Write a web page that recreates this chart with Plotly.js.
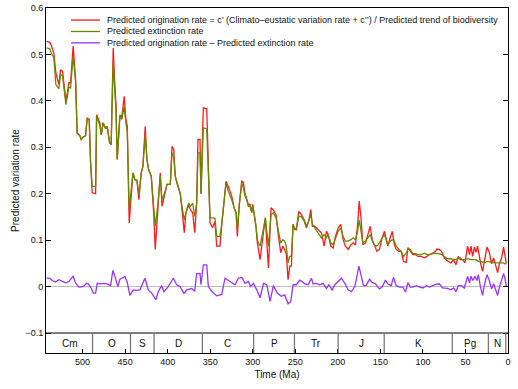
<!DOCTYPE html>
<html>
<head>
<meta charset="utf-8">
<script src="https://cdn.plot.ly/plotly-3.0.1.min.js"></script>
<style>
  html, body { margin: 0; padding: 0; background: #fff; }
  #plot { width: 518px; height: 389px; }
</style>
</head>
<body>
<div id="plot"></div>
<script>
// Time (Ma) for the origination / extinction curves
let rateTime = [542.4, 538.5, 536.9, 533.8, 531.4, 527.9, 525.9, 523.5, 519.6, 516.1,
  514.1, 511.1, 508.2, 506.4, 503.2, 501.6, 499.3, 496.5, 494.6, 492.2,
  490.6, 488.7, 484.7, 483.5, 479.6, 478.1, 475.8, 472.9, 471.1, 468.2,
  466.4, 464.0, 462.0, 460.8, 459.3, 456.1, 453.8, 451.1, 449.1, 447.5,
  445.2, 440.8, 438.5, 436.1, 433.8, 431.1, 429.1, 427.3, 426.4, 424.4,
  422.4, 419.3, 416.5, 414.6, 411.4, 408.7, 406.7, 403.5, 400.8, 396.9,
  394.9, 392.9, 391.1, 389.1, 385.2, 383.2, 380.5, 378.5, 375.3, 373.4,
  370.6, 368.2, 365.9, 364.4, 362.0, 360.8, 358.1, 354.1, 350.2, 347.1,
  344.4, 342.4, 338.5, 336.5, 333.8, 331.4, 328.7, 324.7, 322.0, 319.6,
  318.1, 315.8, 312.9, 311.1, 309.1, 307.1, 305.2, 303.2, 301.2, 300.0,
  298.5, 296.1, 294.6, 291.4, 287.9, 285.2, 281.6, 278.5, 275.8, 272.6,
  269.9, 267.1, 264.7, 262.4, 260.5, 258.5, 256.5, 254.6, 252.6, 250.6,
  248.7, 245.9, 242.8, 239.6, 236.9, 234.1, 231.8, 229.9, 227.1, 224.0,
  221.2, 219.3, 216.1, 213.4, 211.4, 208.2, 205.5, 202.8, 199.6, 196.5,
  193.8, 191.1, 187.9, 184.7, 182.0, 179.3, 176.9, 174.9, 172.9, 170.6,
  167.5, 164.7, 162.0, 159.6, 156.9, 154.1, 151.1, 147.9, 145.2, 143.2,
  141.2, 138.5, 136.1, 133.4, 131.4, 128.2, 125.5, 122.8, 119.6, 117.6,
  114.9, 111.8, 108.7, 105.9, 102.0, 98.1, 95.3, 92.2, 88.2, 85.2,
  83.5, 80.8, 78.1, 74.9, 71.1, 67.1, 64.0, 61.2, 58.5, 56.1,
  53.4, 50.6, 47.5, 45.2, 43.5, 41.6, 39.6, 37.6, 35.8, 33.8,
  31.8, 29.9, 27.1, 24.7, 22.0, 19.3, 16.9, 14.1, 12.2, 9.9,
  7.5, 5.2, 3.5, 2.0]

// Predicted origination rate (red)
let originationRate = [0.528, 0.526, 0.520, 0.503, 0.460, 0.435, 0.467, 0.463, 0.399, 0.439,
  0.439, 0.518, 0.446, 0.331, 0.325, 0.317, 0.322, 0.325, 0.363, 0.360,
  0.267, 0.202, 0.200, 0.370, 0.352, 0.327, 0.353, 0.340, 0.345, 0.310,
  0.306, 0.514, 0.431, 0.392, 0.274, 0.370, 0.365, 0.410, 0.360, 0.347,
  0.137, 0.245, 0.230, 0.229, 0.187, 0.245, 0.259, 0.342, 0.345, 0.274,
  0.252, 0.238, 0.160, 0.080, 0.170, 0.245, 0.173, 0.202, 0.220, 0.220,
  0.302, 0.295, 0.238, 0.223, 0.200, 0.166, 0.116, 0.160, 0.175, 0.166,
  0.159, 0.116, 0.180, 0.317, 0.317, 0.200, 0.385, 0.383, 0.137, 0.127,
  0.140, 0.087, 0.087, 0.132, 0.187, 0.227, 0.215, 0.195, 0.170, 0.159,
  0.108, 0.177, 0.227, 0.225, 0.200, 0.190, 0.177, 0.177, 0.160, 0.177,
  0.159, 0.127, 0.094, 0.058, 0.110, 0.148, 0.040, 0.170, 0.165, 0.155,
  0.110, 0.073, 0.087, 0.080, 0.070, 0.015, 0.044, 0.044, 0.134, 0.123,
  0.123, 0.162, 0.155, 0.144, 0.130, 0.141, 0.166, 0.130, 0.130, 0.123,
  0.119, 0.116, 0.087, 0.119, 0.112, 0.087, 0.083, 0.108, 0.126, 0.134,
  0.101, 0.087, 0.080, 0.090, 0.094, 0.090, 0.130, 0.184, 0.151, 0.090,
  0.094, 0.112, 0.130, 0.101, 0.087, 0.076, 0.080, 0.105, 0.119, 0.105,
  0.087, 0.105, 0.119, 0.090, 0.080, 0.076, 0.076, 0.054, 0.052, 0.084,
  0.076, 0.069, 0.069, 0.065, 0.065, 0.062, 0.065, 0.069, 0.072, 0.076,
  0.081, 0.080, 0.076, 0.062, 0.055, 0.051, 0.058, 0.047, 0.065, 0.058,
  0.058, 0.051, 0.087, 0.069, 0.087, 0.065, 0.085, 0.074, 0.087, 0.062,
  0.047, 0.033, 0.058, 0.085, 0.074, 0.049, 0.062, 0.044, 0.030, 0.051,
  0.062, 0.085, 0.069, 0.050]

// Predicted extinction rate (green)
let extinctionRate = [0.514, 0.512, 0.503, 0.493, 0.435, 0.426, 0.457, 0.454, 0.392, 0.430,
  0.428, 0.496, 0.440, 0.331, 0.325, 0.317, 0.322, 0.325, 0.361, 0.360,
  0.267, 0.216, 0.216, 0.367, 0.347, 0.327, 0.352, 0.340, 0.345, 0.310,
  0.306, 0.485, 0.415, 0.385, 0.274, 0.368, 0.360, 0.388, 0.352, 0.335,
  0.166, 0.245, 0.230, 0.229, 0.198, 0.245, 0.259, 0.325, 0.327, 0.274,
  0.252, 0.238, 0.166, 0.130, 0.180, 0.238, 0.187, 0.202, 0.220, 0.220,
  0.288, 0.280, 0.238, 0.223, 0.200, 0.173, 0.144, 0.160, 0.180, 0.173,
  0.180, 0.151, 0.180, 0.288, 0.288, 0.200, 0.342, 0.340, 0.148, 0.148,
  0.147, 0.108, 0.108, 0.134, 0.187, 0.223, 0.205, 0.187, 0.170, 0.159,
  0.123, 0.177, 0.223, 0.213, 0.195, 0.187, 0.173, 0.173, 0.159, 0.173,
  0.159, 0.130, 0.100, 0.087, 0.120, 0.148, 0.087, 0.155, 0.159, 0.148,
  0.120, 0.094, 0.101, 0.098, 0.086, 0.051, 0.065, 0.065, 0.134, 0.123,
  0.127, 0.151, 0.151, 0.141, 0.126, 0.141, 0.155, 0.134, 0.126, 0.119,
  0.112, 0.105, 0.112, 0.105, 0.112, 0.094, 0.090, 0.105, 0.119, 0.126,
  0.108, 0.098, 0.098, 0.101, 0.105, 0.101, 0.118, 0.144, 0.123, 0.094,
  0.098, 0.105, 0.112, 0.098, 0.090, 0.087, 0.094, 0.105, 0.112, 0.101,
  0.090, 0.098, 0.101, 0.098, 0.087, 0.080, 0.076, 0.065, 0.072, 0.080,
  0.080, 0.071, 0.071, 0.069, 0.069, 0.072, 0.069, 0.069, 0.071, 0.072,
  0.071, 0.071, 0.069, 0.064, 0.060, 0.060, 0.058, 0.058, 0.060, 0.062,
  0.058, 0.058, 0.060, 0.058, 0.058, 0.058, 0.058, 0.058, 0.055, 0.054,
  0.054, 0.052, 0.052, 0.054, 0.054, 0.052, 0.051, 0.051, 0.051, 0.051,
  0.052, 0.051, 0.049, 0.049]

// Predicted origination minus extinction (purple)
let diffTime = [542.4, 538.5, 535.8, 531.8, 527.9, 524.0, 520.0, 516.1, 511.1, 508.2,
  504.4, 499.3, 495.3, 493.4, 489.9, 487.5, 484.7, 482.8, 479.6, 475.8,
  471.1, 467.1, 464.4, 462.0, 458.5, 456.1, 454.1, 450.2, 447.5, 444.4,
  440.5, 436.5, 432.6, 426.7, 422.8, 418.8, 413.8, 411.1, 407.1, 404.4,
  399.3, 393.4, 389.4, 385.5, 380.8, 377.6, 371.8, 368.2, 366.0, 362.0,
  360.8, 358.1, 354.1, 352.2, 348.2, 342.4, 336.5, 332.6, 326.7, 320.8,
  316.9, 312.9, 309.1, 305.2, 302.4, 299.3, 295.3, 291.4, 287.4, 283.5,
  279.6, 275.8, 271.1, 266.4, 262.4, 258.5, 255.3, 252.6, 248.7, 244.7,
  242.0, 238.8, 234.9, 231.0, 229.1, 225.2, 221.2, 217.3, 213.4, 210.6,
  206.7, 203.5, 199.6, 195.8, 191.8, 187.9, 184.0, 180.0, 176.9, 175.3,
  172.6, 169.9, 166.7, 162.8, 159.6, 155.8, 151.1, 147.9, 144.0, 141.2,
  137.3, 134.6, 131.4, 127.5, 123.5, 120.5, 117.6, 114.9, 111.8, 107.9,
  104.0, 100.0, 96.1, 92.2, 88.2, 85.2, 80.8, 76.9, 71.1, 67.1,
  64.0, 61.2, 58.5, 54.6, 51.4, 47.5, 45.2, 43.5, 41.2, 38.8,
  36.5, 34.9, 32.6, 29.9, 27.9, 24.7, 22.0, 19.3, 16.9, 14.1,
  12.2, 9.9, 7.5, 5.2, 3.5, 2.0]
let diffRate = [0.019, 0.018, 0.013, 0.010, 0.015, 0.011, 0.008, 0.011, 0.022, 0.008,
  -0.001, 0.000, 0.007, 0.006, -0.003, -0.014, -0.014, 0.007, 0.006, 0.007,
  0.006, 0.002, 0.035, 0.022, 0.000, 0.016, 0.018, 0.022, 0.009, -0.019,
  -0.007, -0.008, -0.007, 0.018, -0.007, -0.014, -0.028, -0.011, 0.002, -0.011,
  0.000, 0.018, 0.004, 0.000, -0.015, -0.007, -0.004, -0.010, 0.028, 0.028,
  0.004, 0.047, 0.047, 0.000, -0.010, -0.020, -0.017, 0.018, 0.011, 0.004,
  0.018, 0.020, 0.007, 0.011, 0.000, 0.007, -0.007, -0.024, 0.007, 0.004,
  -0.032, 0.002, -0.014, -0.021, -0.018, -0.037, -0.032, 0.004, 0.004, 0.014,
  0.011, 0.006, 0.004, 0.018, 0.006, 0.007, 0.004, 0.007, -0.004, 0.004,
  -0.007, 0.004, 0.011, 0.018, 0.007, -0.007, -0.011, 0.000, 0.028, 0.044,
  0.024, 0.002, 0.002, 0.016, 0.009, 0.006, -0.005, -0.001, 0.014, 0.006,
  0.002, 0.020, 0.002, -0.001, -0.001, -0.012, 0.009, -0.001, -0.001, 0.002,
  -0.001, -0.003, 0.002, -0.001, 0.002, 0.005, 0.006, -0.003, -0.004, -0.007,
  -0.003, -0.011, 0.002, 0.002, -0.003, 0.022, 0.008, 0.022, 0.013, 0.022,
  0.013, 0.026, 0.002, -0.019, 0.002, 0.026, 0.013, -0.005, 0.006, -0.009,
  -0.019, 0.000, 0.013, 0.028, 0.017, 0.000]

// Geological periods for the strip under the plot
let periodNames = ["Cm", "O", "S", "D", "C", "P", "Tr", "J", "K", "Pg", "N"]
let periodStart = [542, 488.3, 443.7, 416, 359.2, 299, 251, 199.6, 145.5, 65.5, 23.03]
let periodEnd = [488.3, 443.7, 416, 359.2, 299, 251, 199.6, 145.5, 65.5, 23.03, 2.6]

let legendNames = [
  "Predicted origination rate = c\u2019 (Climato\u2013eustatic variation rate + c\u2019\u2019) / Predicted trend of biodiversity",
  "Predicted extinction rate",
  "Predicted origination rate \u2013 Predicted extinction rate"
]

let red = "#ff1a1a"
let green = "#668a00"
let purple = "#9933ff"
let font = "Liberation Sans, Arial, sans-serif"

let trace1 = {x: rateTime, y: originationRate, type: "scatter", mode: "lines",
  line: {color: red, width: 1.3}}
let trace2 = {x: rateTime, y: extinctionRate, type: "scatter", mode: "lines",
  line: {color: green, width: 1.3}}
let trace3 = {x: diffTime, y: diffRate, type: "scatter", mode: "lines",
  line: {color: purple, width: 1.3}}

let shapes = []
let annotations = []

// top edge of the period strip
shapes.push({type: "line", xref: "paper", yref: "y", x0: 0, x1: 1, y0: -0.1, y1: -0.1,
  line: {color: "#000", width: 1}})

// period dividers and names
let yBottom = -0.143
for (let i in periodNames) {
  if (i > 0) {
    shapes.push({type: "line", xref: "x", yref: "y", x0: periodStart[i], x1: periodStart[i],
      y0: yBottom, y1: -0.1, line: {color: "#777", width: 1.3}})
  }
  annotations.push({x: (periodStart[i] + periodEnd[i]) / 2, y: -0.1215, xref: "x", yref: "y",
    text: periodNames[i], showarrow: false, font: {size: 10, color: "#111", family: font}})
}
shapes.push({type: "line", xref: "x", yref: "y", x0: 2.6, x1: 2.6,
  y0: yBottom, y1: -0.1, line: {color: "#777", width: 1.3}})

// hand-made legend (tighter than plotly's)
let legendColors = [red, green, purple]
let legendY = [0.965, 0.932, 0.899]
for (let i in legendNames) {
  shapes.push({type: "line", xref: "paper", yref: "paper", x0: 0.054, x1: 0.117,
    y0: legendY[i], y1: legendY[i], line: {color: legendColors[i], width: 1.3}})
  annotations.push({x: 0.127, y: legendY[i], xref: "paper", yref: "paper", xanchor: "left",
    yanchor: "middle", text: legendNames[i], showarrow: false,
    font: {size: 9, color: "#111", family: font}})
}

let layout = {
  width: 518,
  height: 389,
  margin: {l: 46, r: 10, t: 8, b: 36},
  showlegend: false,
  paper_bgcolor: "#fff",
  plot_bgcolor: "#fff",
  font: {family: font, size: 9, color: "#111"},
  xaxis: {
    range: [543, 0],
    tickmode: "linear", tick0: 0, dtick: 50,
    ticks: "inside", ticklen: 4, tickcolor: "#000",
    showline: true, linecolor: "#000", linewidth: 1, mirror: true,
    showgrid: false, zeroline: false,
    tickfont: {size: 9, color: "#111"},
    title: {text: "Time (Ma)", font: {size: 10, color: "#111"}, standoff: 5}
  },
  yaxis: {
    range: [-0.143, 0.6],
    tickmode: "linear", tick0: -0.1, dtick: 0.1,
    ticks: "inside", ticklen: 5, tickcolor: "#000",
    showline: true, linecolor: "#000", linewidth: 1, mirror: "ticks",
    showgrid: false,
    zeroline: true, zerolinecolor: "#bbbbbb", zerolinewidth: 1,
    tickfont: {size: 9, color: "#111"},
    title: {text: "Predicted variation rate", font: {size: 10, color: "#111"}, standoff: 3}
  },
  shapes: shapes,
  annotations: annotations
}

Plotly.newPlot("plot", [trace1, trace2, trace3], layout, {staticPlot: true})
</script>
</body>
</html>
